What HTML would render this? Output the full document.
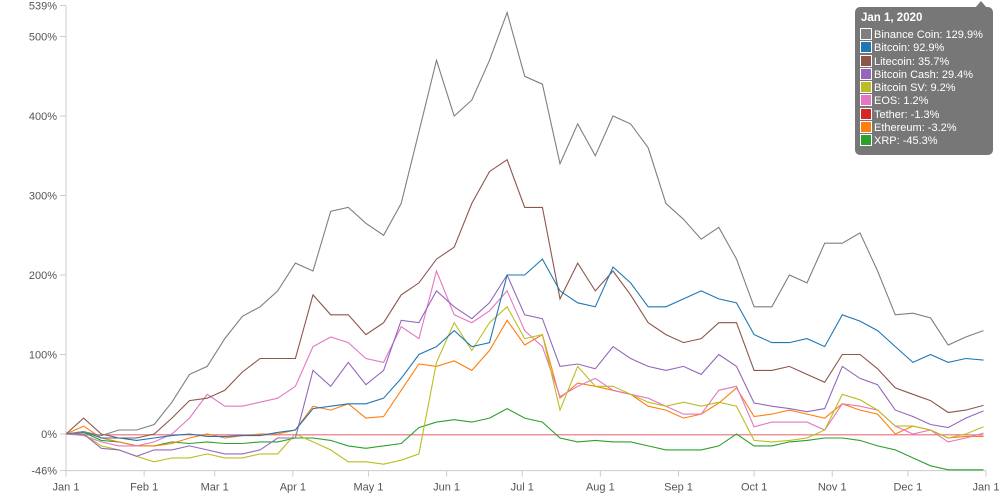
<!DOCTYPE html>
<html><head><meta charset="utf-8"><style>
body{margin:0;background:#fff;font-family:"Liberation Sans",sans-serif;}
#wrap{position:relative;width:1002px;height:500px;overflow:hidden}
svg text{font-family:"Liberation Sans",sans-serif;font-size:11px;fill:#555}
#tip{position:absolute;left:855px;top:7px;width:138px;height:148px;background:#777;border-radius:5px;color:#fff;font-size:11px;box-sizing:border-box;padding:5px 5px}
#tip .t{font-weight:bold;font-size:11.5px;margin:0 0 4px 1px}
#tip .r{height:13.3px;line-height:13px;white-space:nowrap}
#tip .s{display:inline-block;width:10px;height:10px;border:1px solid #fff;vertical-align:-2px;margin-right:2px}
#arrow{position:absolute;left:975px;top:1px;width:0;height:0;border-left:6px solid transparent;border-right:6px solid transparent;border-bottom:7px solid #777}
</style></head><body>
<div id="wrap">
<svg id="chart" width="1002" height="500"></svg>
<div id="arrow"></div>
<div id="tip">
<div class="t">Jan 1, 2020</div>
<div class="r"><span class="s" style="background:#7f7f7f"></span>Binance Coin: 129.9%</div>
<div class="r"><span class="s" style="background:#1f77b4"></span>Bitcoin: 92.9%</div>
<div class="r"><span class="s" style="background:#8c564b"></span>Litecoin: 35.7%</div>
<div class="r"><span class="s" style="background:#9467bd"></span>Bitcoin Cash: 29.4%</div>
<div class="r"><span class="s" style="background:#bcbd22"></span>Bitcoin SV: 9.2%</div>
<div class="r"><span class="s" style="background:#e377c2"></span>EOS: 1.2%</div>
<div class="r"><span class="s" style="background:#d62728"></span>Tether: -1.3%</div>
<div class="r"><span class="s" style="background:#ff7f0e"></span>Ethereum: -3.2%</div>
<div class="r"><span class="s" style="background:#2ca02c"></span>XRP: -45.3%</div>
</div>
</div>
<script>
const yTickValues=[539,500,400,300,200,100,0,-46];
const xTickDays=[0,31,59,90,120,151,181,212,243,273,304,334,365];
const xTickLabels=["Jan 1","Feb 1","Mar 1","Apr 1","May 1","Jun 1","Jul 1","Aug 1","Sep 1","Oct 1","Nov 1","Dec 1","Jan 1"];
const binance=[0,3,-2,5,5,12,40,75,85,120,148,160,180,215,205,280,285,265,250,290,380,470,400,420,470,530,450,440,340,390,350,400,390,360,290,270,245,260,220,160,160,200,190,240,240,253,205,150,152,146,112,122,130];
const bitcoin=[0,3,-5,-5,-8,-5,-2,0,-3,-3,-2,-2,2,5,32,35,38,38,45,70,100,110,130,110,115,200,200,220,180,165,160,210,190,160,160,170,180,170,165,125,115,115,120,110,150,142,130,110,90,100,90,95,93];
const litecoin=[0,20,0,-5,-5,0,20,42,45,55,78,95,95,95,175,150,150,125,140,175,190,220,235,290,330,345,285,285,170,215,180,205,175,140,125,115,120,140,140,80,80,85,75,65,100,100,82,58,50,42,27,30,36];
const bitcoinCash=[0,0,-18,-20,-28,-20,-20,-15,-20,-25,-25,-20,-5,-5,80,60,90,62,80,143,140,180,160,145,165,200,150,145,85,88,82,110,95,85,80,85,75,100,85,39,35,32,28,32,85,70,62,30,22,12,8,20,29];
const bitcoinSV=[0,0,-15,-20,-28,-35,-30,-30,-25,-30,-30,-25,-25,0,-10,-20,-35,-35,-38,-33,-25,90,140,105,140,160,120,125,30,85,60,60,50,40,35,40,35,40,35,-8,-10,-8,-5,5,50,43,30,10,10,5,-5,0,9];
const eos=[0,-2,-10,-15,-15,-10,0,20,50,35,35,40,45,60,110,122,115,95,90,135,120,205,150,140,155,180,130,110,47,60,70,55,50,45,35,25,25,55,60,9,15,15,15,5,38,35,30,10,0,5,-10,-5,1];
const tether=[0,-1,-1,-1,-1,-1,-1,-1,-1,-1,-1,-1,-1,-1,-1,-1,-1,-1,-1,-1,-1,-1,-1,-1,-1,-1,-1,-1,-1,-1,-1,-1,-1,-1,-1,-1,-1,-1,-1,-1,-1,-1,-1,-1,-1,-1,-1,-1,-1,-1,-1,-1,-1.3];
const ethereum=[0,10,-5,-10,-15,-15,-12,-5,0,-5,-2,0,0,5,35,30,38,20,22,55,88,85,92,80,105,143,112,125,45,64,60,55,50,35,30,20,25,39,58,22,25,30,25,20,38,30,25,0,10,5,-5,-3,-3];
const xrp=[0,2,-8,-10,-15,-15,-10,-12,-10,-12,-12,-10,-10,-5,-5,-8,-15,-18,-15,-12,8,15,18,15,20,32,20,15,-5,-10,-8,-10,-10,-15,-20,-20,-20,-15,0,-15,-15,-10,-8,-5,-5,-8,-15,-20,-30,-40,-45,-45,-45];
const seriesList=[["tether",tether,"#e8707a"],["xrp",xrp,"#2ca02c"],["ethereum",ethereum,"#ff7f0e"],["eos",eos,"#e377c2"],["bitcoin-sv",bitcoinSV,"#bcbd22"],["bitcoin-cash",bitcoinCash,"#9467bd"],["litecoin",litecoin,"#8c564b"],["bitcoin",bitcoin,"#1f77b4"],["binance-coin",binance,"#7f7f7f"]];

const NS="http://www.w3.org/2000/svg";
const svg=document.getElementById('chart');
const X0=66,X1=986,Y0=434,PX=0.795;
function xScale(day){return X0+day*(X1-X0)/365;}
function yScale(v){return Y0-v*PX;}
function mk(tag,attrs){const e=document.createElementNS(NS,tag);for(const k in attrs)e.setAttribute(k,attrs[k]);svg.appendChild(e);return e;}

const yAxis=mk('line',{x1:X0,x2:X0,y1:yScale(539),y2:yScale(-46),stroke:'#ccc'});


const xAxis=mk('line',{x1:X0,x2:X1,y1:yScale(-46),y2:yScale(-46),stroke:'#ccc'});



yTickValues.forEach(v=>{
  const y=yScale(v);
  const tk=mk('line',{x1:X0-6,x2:X0,y1:y,y2:y,stroke:'#ccc'});
  
  
  const t=mk('text',{x:X0-9,y:y+4,'text-anchor':'end'});
  t.textContent=v+'%';
  
  
});
xTickDays.forEach((d,i)=>{
  const x=xScale(d),y=yScale(-46);
  const tk=mk('line',{x1:x,x2:x,y1:y,y2:y+6,stroke:'#ccc'});
  
  
  const t=mk('text',{x:x,y:y+20,'text-anchor':'middle'});
  t.textContent=xTickLabels[i];
  
  
});

seriesList.forEach(s=>{
  const pts=s[1].map((v,i)=>xScale(Math.min(i*7,365)).toFixed(1)+','+yScale(v).toFixed(1)).join(' ');
  const pl=mk('polyline',{points:pts,fill:'none',stroke:s[2],'stroke-width':1.1});
  
  
});
</script>
</body></html>
